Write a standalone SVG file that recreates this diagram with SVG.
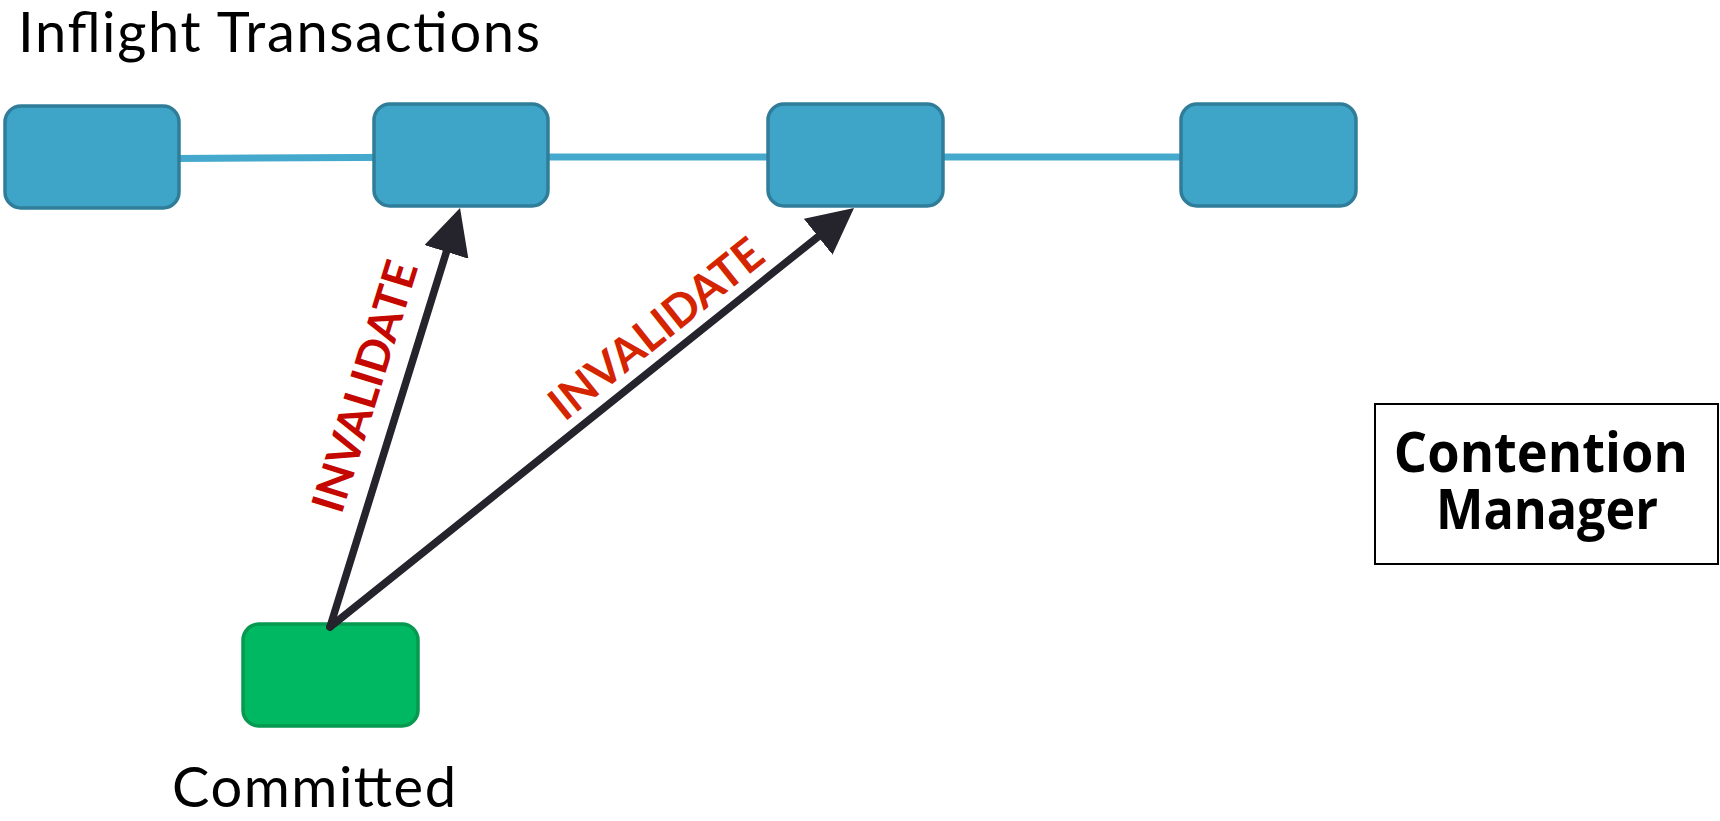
<svg xmlns="http://www.w3.org/2000/svg" width="1720" height="821" viewBox="0 0 1720 821">
  <style>
    .tx { fill: #3fa5c8; stroke: #2f7d99; stroke-width: 3.5; }
    .done { fill: #00b862; stroke: #06994f; stroke-width: 3.5; }
    .chain { fill: none; stroke: #44a9cc; stroke-width: 7; }
    .arrow { fill: none; stroke: #25232c; stroke-width: 7.5; stroke-linecap: round; }
    .caption { font-family: Lato, "Open Sans", "Liberation Sans", sans-serif; font-size: 56px; fill: #000; }
    .label { font-family: Lato, "Liberation Sans", sans-serif; font-weight: 700; font-size: 45px; }
    .cm { font-family: "Open Sans", "DejaVu Sans", sans-serif; font-weight: 700; font-size: 55px; fill: #000; text-anchor: middle; }
  </style>
  <defs>
    <marker id="head" markerUnits="userSpaceOnUse" markerWidth="46" markerHeight="46" refX="0" refY="23" orient="auto" viewBox="0 0 46 46">
      <path d="M0,0 L46,23 L0,46 z" fill="#25232c"/>
    </marker>
  </defs>

  <rect width="1720" height="821" fill="#fff"/>

  <text id="title" class="caption" x="18" y="52" textLength="522">Inflight Transactions</text>

  <!-- chain of in-flight transactions, drawn under the boxes -->
  <g id="connectors">
    <path class="chain" d="M92,159 L461,157 L1268,157"/>
  </g>

  <g id="tx1"><rect class="tx" x="5" y="106" width="174" height="102" rx="16"/></g>
  <g id="tx2"><rect class="tx" x="374" y="104" width="174" height="102" rx="16"/></g>
  <g id="tx3"><rect class="tx" x="768" y="104" width="175" height="102" rx="16"/></g>
  <g id="tx4"><rect class="tx" x="1181" y="104" width="175" height="102" rx="16"/></g>

  <g id="committed">
    <rect class="done" x="243" y="624" width="175" height="102" rx="16"/>
    <text class="caption" x="172" y="807" textLength="284">Committed</text>
  </g>

  <!-- invalidation arrows from the committed transaction -->
  <g id="invalidations">
    <path class="arrow" d="M330,627 L446.4,251.9" marker-end="url(#head)"/>
    <path class="arrow" d="M330,627 L818.1,236.7" marker-end="url(#head)"/>
    <text class="label" fill="#c40800" text-anchor="middle" textLength="260" transform="translate(380,391) rotate(-72.76)">INVALIDATE</text>
    <text class="label" fill="#d42400" text-anchor="middle" textLength="260" transform="translate(666,341) rotate(-38.65)">INVALIDATE</text>
  </g>

  <g id="contention-manager">
    <rect x="1375" y="404" width="343" height="160" fill="#fff" stroke="#000" stroke-width="2"/>
    <text class="cm">
      <tspan x="1548" y="472" textLength="294" lengthAdjust="spacingAndGlyphs">Contention</tspan>
      <tspan x="1547" y="529" textLength="222" lengthAdjust="spacingAndGlyphs">Manager</tspan>
    </text>
  </g>
</svg>
